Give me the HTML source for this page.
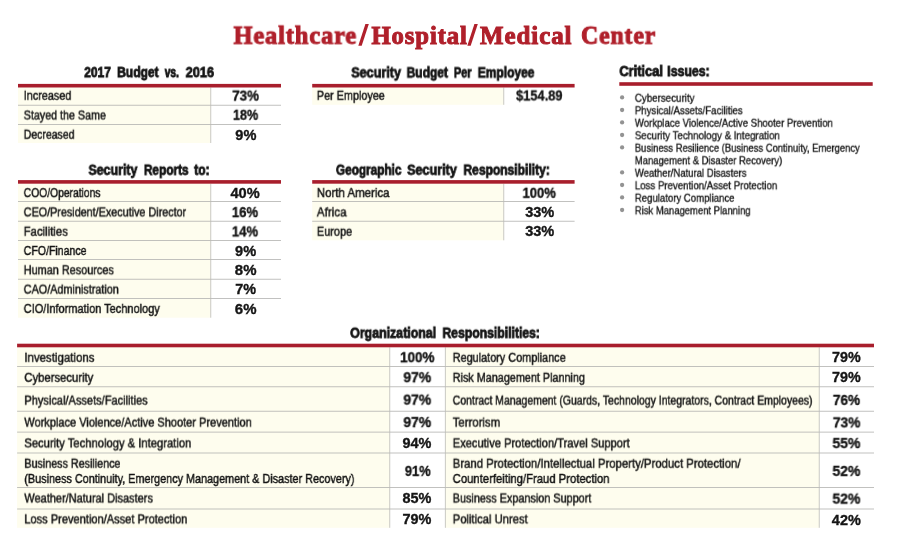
<!DOCTYPE html>
<html><head><meta charset="utf-8"><title>Healthcare/Hospital/Medical Center</title>
<style>
html,body{margin:0;padding:0;background:#fff;}
body{width:900px;height:550px;position:relative;overflow:hidden;font-family:"Liberation Sans",sans-serif;}
.r{position:absolute;}
.t{position:absolute;left:0;top:0;white-space:nowrap;line-height:1;transform-origin:0 0;will-change:transform;}
.p{display:inline-block;width:0;height:0;}
.n{-webkit-text-stroke:0.5px currentColor;}
.h{-webkit-text-stroke:0.8px currentColor;}
.q{-webkit-text-stroke:0.35px currentColor;}
.k{-webkit-text-stroke:1px currentColor;letter-spacing:0.9px;}
.s{-webkit-text-stroke:0.35px currentColor;}
</style></head><body>
<svg class="r" style="left:0;top:0" width="900" height="550" viewBox="0 0 900 550" shape-rendering="geometricPrecision">
<rect x="18.00" y="87.50" width="192.80" height="55.50" fill="#fefdee"/>
<rect x="18.00" y="104.80" width="263.00" height="0.80" fill="#b2b2b0"/>
<rect x="18.00" y="124.00" width="263.00" height="0.80" fill="#b2b2b0"/>
<rect x="210.40" y="87.50" width="0.80" height="55.50" fill="#bcbcb7"/>
<rect x="18.00" y="83.90" width="263.00" height="3.60" fill="#a81e2c"/>
<rect x="18.00" y="183.70" width="192.80" height="134.00" fill="#fefdee"/>
<rect x="18.00" y="201.20" width="263.00" height="0.80" fill="#b2b2b0"/>
<rect x="18.00" y="220.80" width="263.00" height="0.80" fill="#b2b2b0"/>
<rect x="18.00" y="240.00" width="263.00" height="0.80" fill="#b2b2b0"/>
<rect x="18.00" y="259.10" width="263.00" height="0.80" fill="#b2b2b0"/>
<rect x="18.00" y="278.80" width="263.00" height="0.80" fill="#b2b2b0"/>
<rect x="18.00" y="298.10" width="263.00" height="0.80" fill="#b2b2b0"/>
<rect x="210.40" y="183.70" width="0.80" height="134.00" fill="#bcbcb7"/>
<rect x="18.00" y="180.10" width="263.00" height="3.60" fill="#a81e2c"/>
<rect x="312.20" y="87.50" width="191.60" height="17.30" fill="#fefdee"/>
<rect x="503.40" y="87.50" width="0.80" height="17.30" fill="#bcbcb7"/>
<rect x="312.20" y="83.90" width="262.40" height="3.60" fill="#a81e2c"/>
<rect x="312.20" y="183.70" width="191.60" height="56.60" fill="#fefdee"/>
<rect x="312.20" y="201.20" width="262.40" height="0.80" fill="#b2b2b0"/>
<rect x="312.20" y="220.80" width="262.40" height="0.80" fill="#b2b2b0"/>
<rect x="503.40" y="183.70" width="0.80" height="56.60" fill="#bcbcb7"/>
<rect x="312.20" y="180.10" width="262.40" height="3.60" fill="#a81e2c"/>
<rect x="619.30" y="82.20" width="253.40" height="3.60" fill="#a81e2c"/>
<rect x="17.10" y="347.30" width="372.70" height="180.50" fill="#fefdee"/>
<rect x="445.30" y="347.30" width="373.90" height="180.50" fill="#fefdee"/>
<rect x="17.10" y="366.00" width="856.90" height="0.80" fill="#b2b2b0"/>
<rect x="17.10" y="386.40" width="856.90" height="0.80" fill="#b2b2b0"/>
<rect x="17.10" y="410.80" width="856.90" height="0.80" fill="#b2b2b0"/>
<rect x="17.10" y="431.70" width="856.90" height="0.80" fill="#b2b2b0"/>
<rect x="17.10" y="452.60" width="856.90" height="0.80" fill="#b2b2b0"/>
<rect x="17.10" y="487.20" width="856.90" height="0.80" fill="#b2b2b0"/>
<rect x="17.10" y="508.60" width="856.90" height="0.80" fill="#b2b2b0"/>
<rect x="389.40" y="347.30" width="0.80" height="180.50" fill="#bcbcb7"/>
<rect x="444.90" y="347.30" width="0.80" height="180.50" fill="#bcbcb7"/>
<rect x="818.80" y="347.30" width="0.80" height="180.50" fill="#bcbcb7"/>
<rect x="17.10" y="343.70" width="856.90" height="3.60" fill="#a81e2c"/>
<circle cx="622.1" cy="97.4" r="2.15" fill="#939393"/>
<circle cx="622.1" cy="110.0" r="2.15" fill="#939393"/>
<circle cx="622.1" cy="122.4" r="2.15" fill="#939393"/>
<circle cx="622.1" cy="135.0" r="2.15" fill="#939393"/>
<circle cx="622.1" cy="147.4" r="2.15" fill="#939393"/>
<circle cx="622.1" cy="172.4" r="2.15" fill="#939393"/>
<circle cx="622.1" cy="185.0" r="2.15" fill="#939393"/>
<circle cx="622.1" cy="197.4" r="2.15" fill="#939393"/>
<circle cx="622.1" cy="210.0" r="2.15" fill="#939393"/>
<polygon points="365.4,24 368.8,24 361.7,45.8 358.3,45.8" fill="#b0202b"/>
<polygon points="474.4,24 477.8,24 470.7,45.8 467.3,45.8" fill="#b0202b"/>
</svg>
<div class="t k" style="font-size:24.6px;font-weight:700;font-family:'Liberation Serif', serif;color:#b0202b;transform:translate(233.55px,23.70px) scaleX(0.9911)">Healthcare</div>
<div class="t k" style="font-size:24.6px;font-weight:700;font-family:'Liberation Serif', serif;color:#b0202b;transform:translate(371.40px,23.70px) scaleX(1.0039)">Hospital</div>
<div class="t k" style="font-size:24.6px;font-weight:700;font-family:'Liberation Serif', serif;color:#b0202b;transform:translate(480.10px,23.70px) scaleX(1.0139)">Medical</div>
<div class="t k" style="font-size:24.6px;font-weight:700;font-family:'Liberation Serif', serif;color:#b0202b;transform:translate(581.05px,23.70px) scaleX(0.9645)">Center</div>
<div class="t h" style="font-size:14px;font-weight:700;color:#151515;transform:translate(84.25px,65.10px) scaleX(0.8570)">2017</div>
<div class="t h" style="font-size:14px;font-weight:700;color:#151515;transform:translate(117.15px,65.10px) scaleX(0.8607)">Budget</div>
<div class="t h" style="font-size:14px;font-weight:700;color:#151515;transform:translate(164.65px,65.10px) scaleX(0.7345)">vs.</div>
<div class="t h" style="font-size:14px;font-weight:700;color:#151515;transform:translate(185.65px,65.10px) scaleX(0.9147)">2016</div>
<div class="t h" style="font-size:14px;font-weight:700;color:#151515;transform:translate(88.45px,162.80px) scaleX(0.8851)">Security</div>
<div class="t h" style="font-size:14px;font-weight:700;color:#151515;transform:translate(143.95px,162.80px) scaleX(0.8430)">Reports</div>
<div class="t h" style="font-size:14px;font-weight:700;color:#151515;transform:translate(194.15px,162.80px) scaleX(0.8608)">to:</div>
<div class="t h" style="font-size:14px;font-weight:700;color:#151515;transform:translate(351.25px,65.40px) scaleX(0.8995)">Security</div>
<div class="t h" style="font-size:14px;font-weight:700;color:#151515;transform:translate(406.65px,65.40px) scaleX(0.8565)">Budget</div>
<div class="t h" style="font-size:14px;font-weight:700;color:#151515;transform:translate(453.85px,65.40px) scaleX(0.7884)">Per</div>
<div class="t h" style="font-size:14px;font-weight:700;color:#151515;transform:translate(477.75px,65.40px) scaleX(0.8573)">Employee</div>
<div class="t h" style="font-size:14px;font-weight:700;color:#151515;transform:translate(335.95px,162.70px) scaleX(0.8419)">Geographic</div>
<div class="t h" style="font-size:14px;font-weight:700;color:#151515;transform:translate(407.15px,162.70px) scaleX(0.8977)">Security</div>
<div class="t h" style="font-size:14px;font-weight:700;color:#151515;transform:translate(463.45px,162.70px) scaleX(0.8599)">Responsibility:</div>
<div class="t h" style="font-size:14px;font-weight:700;color:#151515;transform:translate(619.35px,64.10px) scaleX(0.9185)">Critical</div>
<div class="t h" style="font-size:14px;font-weight:700;color:#151515;transform:translate(667.15px,64.10px) scaleX(0.8829)">Issues:</div>
<div class="t h" style="font-size:14px;font-weight:700;color:#151515;transform:translate(350.15px,325.80px) scaleX(0.8845)">Organizational</div>
<div class="t h" style="font-size:14px;font-weight:700;color:#151515;transform:translate(442.45px,325.80px) scaleX(0.8703)">Responsibilities:</div>
<div class="t n" style="font-size:13.7px;font-weight:400;color:#151515;transform:translate(23.70px,88.80px) scaleX(0.7917)">Increased</div>
<div class="t n" style="font-size:13.7px;font-weight:400;color:#151515;transform:translate(23.70px,108.50px) scaleX(0.7827)">Stayed the Same</div>
<div class="t n" style="font-size:13.7px;font-weight:400;color:#151515;transform:translate(23.70px,127.70px) scaleX(0.7673)">Decreased</div>
<div class="t q" style="font-size:14.01px;font-weight:700;color:#151515;transform:translate(232.15px,88.60px) scaleX(0.9596)">73%</div>
<div class="t q" style="font-size:14.01px;font-weight:700;color:#151515;transform:translate(232.95px,107.80px) scaleX(0.9026)">18%</div>
<div class="t q" style="font-size:14.01px;font-weight:700;color:#151515;transform:translate(235.35px,127.70px) scaleX(1.0403)">9%</div>
<div class="t n" style="font-size:13.7px;font-weight:400;color:#151515;transform:translate(23.70px,186.10px) scaleX(0.7534)">COO/Operations</div>
<div class="t q" style="font-size:14.01px;font-weight:700;color:#151515;transform:translate(230.45px,185.80px) scaleX(1.0417)">40%</div>
<div class="t n" style="font-size:13.7px;font-weight:400;color:#151515;transform:translate(23.70px,205.40px) scaleX(0.7882)">CEO/President/Executive Director</div>
<div class="t q" style="font-size:14.01px;font-weight:700;color:#151515;transform:translate(231.85px,205.10px) scaleX(0.9382)">16%</div>
<div class="t n" style="font-size:13.7px;font-weight:400;color:#151515;transform:translate(23.70px,224.70px) scaleX(0.8282)">Facilities</div>
<div class="t q" style="font-size:14.01px;font-weight:700;color:#151515;transform:translate(231.85px,224.40px) scaleX(0.9382)">14%</div>
<div class="t n" style="font-size:13.7px;font-weight:400;color:#151515;transform:translate(23.70px,244.00px) scaleX(0.7716)">CFO/Finance</div>
<div class="t q" style="font-size:14.01px;font-weight:700;color:#151515;transform:translate(235.05px,243.70px) scaleX(1.0428)">9%</div>
<div class="t n" style="font-size:13.7px;font-weight:400;color:#151515;transform:translate(23.70px,263.30px) scaleX(0.7948)">Human Resources</div>
<div class="t q" style="font-size:14.01px;font-weight:700;color:#151515;transform:translate(234.85px,263.00px) scaleX(1.0675)">8%</div>
<div class="t n" style="font-size:13.7px;font-weight:400;color:#151515;transform:translate(23.70px,282.60px) scaleX(0.7913)">CAO/Administration</div>
<div class="t q" style="font-size:14.01px;font-weight:700;color:#151515;transform:translate(235.35px,282.30px) scaleX(1.0280)">7%</div>
<div class="t n" style="font-size:13.7px;font-weight:400;color:#151515;transform:translate(23.70px,301.90px) scaleX(0.8033)">CIO/Information Technology</div>
<div class="t q" style="font-size:14.01px;font-weight:700;color:#151515;transform:translate(234.85px,301.60px) scaleX(1.0675)">6%</div>
<div class="t n" style="font-size:13.7px;font-weight:400;color:#151515;transform:translate(316.80px,88.80px) scaleX(0.7910)">Per Employee</div>
<div class="t q" style="font-size:14.01px;font-weight:700;color:#151515;transform:translate(516.05px,88.50px) scaleX(0.9188)">$154.89</div>
<div class="t n" style="font-size:13.7px;font-weight:400;color:#151515;transform:translate(316.80px,186.10px) scaleX(0.8383)">North America</div>
<div class="t q" style="font-size:14.01px;font-weight:700;color:#151515;transform:translate(522.45px,185.80px) scaleX(0.9354)">100%</div>
<div class="t n" style="font-size:13.7px;font-weight:400;color:#151515;transform:translate(316.80px,205.40px) scaleX(0.8486)">Africa</div>
<div class="t q" style="font-size:14.01px;font-weight:700;color:#151515;transform:translate(525.15px,205.10px) scaleX(1.0417)">33%</div>
<div class="t n" style="font-size:13.7px;font-weight:400;color:#151515;transform:translate(316.80px,224.70px) scaleX(0.8020)">Europe</div>
<div class="t q" style="font-size:14.01px;font-weight:700;color:#151515;transform:translate(525.15px,224.40px) scaleX(1.0417)">33%</div>
<div class="t s" style="font-size:11.8px;font-weight:400;color:#151515;transform:translate(634.80px,92.70px) scaleX(0.8277)">Cybersecurity</div>
<div class="t s" style="font-size:11.8px;font-weight:400;color:#151515;transform:translate(634.80px,105.30px) scaleX(0.8195)">Physical/Assets/Facilities</div>
<div class="t s" style="font-size:11.8px;font-weight:400;color:#151515;transform:translate(634.80px,117.70px) scaleX(0.8131)">Workplace Violence/Active Shooter Prevention</div>
<div class="t s" style="font-size:11.8px;font-weight:400;color:#151515;transform:translate(634.80px,130.30px) scaleX(0.8261)">Security Technology &amp; Integration</div>
<div class="t s" style="font-size:11.8px;font-weight:400;color:#151515;transform:translate(634.80px,142.70px) scaleX(0.7986)">Business Resilience (Business Continuity, Emergency</div>
<div class="t s" style="font-size:11.8px;font-weight:400;color:#151515;transform:translate(634.80px,155.30px) scaleX(0.8029)">Management &amp; Disaster Recovery)</div>
<div class="t s" style="font-size:11.8px;font-weight:400;color:#151515;transform:translate(634.80px,167.70px) scaleX(0.8087)">Weather/Natural Disasters</div>
<div class="t s" style="font-size:11.8px;font-weight:400;color:#151515;transform:translate(634.80px,180.30px) scaleX(0.8194)">Loss Prevention/Asset Protection</div>
<div class="t s" style="font-size:11.8px;font-weight:400;color:#151515;transform:translate(634.80px,192.70px) scaleX(0.8130)">Regulatory Compliance</div>
<div class="t s" style="font-size:11.8px;font-weight:400;color:#151515;transform:translate(634.80px,205.30px) scaleX(0.8020)">Risk Management Planning</div>
<div class="t n" style="font-size:13.7px;font-weight:400;color:#151515;transform:translate(24.30px,350.80px) scaleX(0.8387)">Investigations</div>
<div class="t q" style="font-size:14.01px;font-weight:700;color:#151515;transform:translate(400.05px,350.20px) scaleX(0.9634)">100%</div>
<div class="t n" style="font-size:13.7px;font-weight:400;color:#151515;transform:translate(24.30px,370.80px) scaleX(0.8246)">Cybersecurity</div>
<div class="t q" style="font-size:14.01px;font-weight:700;color:#151515;transform:translate(403.35px,370.20px) scaleX(0.9953)">97%</div>
<div class="t n" style="font-size:13.7px;font-weight:400;color:#151515;transform:translate(24.30px,393.60px) scaleX(0.8071)">Physical/Assets/Facilities</div>
<div class="t q" style="font-size:14.01px;font-weight:700;color:#151515;transform:translate(403.35px,392.60px) scaleX(0.9953)">97%</div>
<div class="t n" style="font-size:13.7px;font-weight:400;color:#151515;transform:translate(24.30px,415.60px) scaleX(0.8049)">Workplace Violence/Active Shooter Prevention</div>
<div class="t q" style="font-size:14.01px;font-weight:700;color:#151515;transform:translate(403.35px,415.10px) scaleX(0.9953)">97%</div>
<div class="t n" style="font-size:13.7px;font-weight:400;color:#151515;transform:translate(24.30px,436.40px) scaleX(0.8199)">Security Technology &amp; Integration</div>
<div class="t q" style="font-size:14.01px;font-weight:700;color:#151515;transform:translate(402.55px,436.00px) scaleX(1.0310)">94%</div>
<div class="t n" style="font-size:13.7px;font-weight:400;color:#151515;transform:translate(24.30px,456.70px) scaleX(0.7853)">Business Resilience</div>
<div class="t n" style="font-size:13.7px;font-weight:400;color:#151515;transform:translate(24.30px,472.00px) scaleX(0.7911)">(Business Continuity, Emergency Management &amp; Disaster Recovery)</div>
<div class="t q" style="font-size:14.01px;font-weight:700;color:#151515;transform:translate(404.85px,463.90px) scaleX(0.9204)">91%</div>
<div class="t n" style="font-size:13.7px;font-weight:400;color:#151515;transform:translate(24.30px,491.50px) scaleX(0.8024)">Weather/Natural Disasters</div>
<div class="t q" style="font-size:14.01px;font-weight:700;color:#151515;transform:translate(402.55px,491.40px) scaleX(1.0310)">85%</div>
<div class="t n" style="font-size:13.7px;font-weight:400;color:#151515;transform:translate(24.30px,512.40px) scaleX(0.8084)">Loss Prevention/Asset Protection</div>
<div class="t q" style="font-size:14.01px;font-weight:700;color:#151515;transform:translate(402.55px,512.00px) scaleX(1.0310)">79%</div>
<div class="t n" style="font-size:13.7px;font-weight:400;color:#151515;transform:translate(452.70px,350.80px) scaleX(0.7942)">Regulatory Compliance</div>
<div class="t q" style="font-size:14.01px;font-weight:700;color:#151515;transform:translate(832.05px,350.20px) scaleX(1.0203)">79%</div>
<div class="t n" style="font-size:13.7px;font-weight:400;color:#151515;transform:translate(452.70px,370.80px) scaleX(0.7898)">Risk Management Planning</div>
<div class="t q" style="font-size:14.01px;font-weight:700;color:#151515;transform:translate(832.05px,370.40px) scaleX(1.0203)">79%</div>
<div class="t n" style="font-size:13.7px;font-weight:400;color:#151515;transform:translate(452.70px,393.60px) scaleX(0.7657)">Contract Management (Guards, Technology Integrators, Contract Employees)</div>
<div class="t q" style="font-size:14.01px;font-weight:700;color:#151515;transform:translate(832.85px,392.90px) scaleX(0.9739)">76%</div>
<div class="t n" style="font-size:13.7px;font-weight:400;color:#151515;transform:translate(452.70px,415.60px) scaleX(0.8311)">Terrorism</div>
<div class="t q" style="font-size:14.01px;font-weight:700;color:#151515;transform:translate(832.85px,415.40px) scaleX(0.9846)">73%</div>
<div class="t n" style="font-size:13.7px;font-weight:400;color:#151515;transform:translate(452.70px,436.40px) scaleX(0.8125)">Executive Protection/Travel Support</div>
<div class="t q" style="font-size:14.01px;font-weight:700;color:#151515;transform:translate(832.45px,436.10px) scaleX(0.9989)">55%</div>
<div class="t n" style="font-size:13.7px;font-weight:400;color:#151515;transform:translate(452.70px,456.70px) scaleX(0.8295)">Brand Protection/Intellectual Property/Product Protection/</div>
<div class="t n" style="font-size:13.7px;font-weight:400;color:#151515;transform:translate(452.70px,472.00px) scaleX(0.8243)">Counterfeiting/Fraud Protection</div>
<div class="t q" style="font-size:14.01px;font-weight:700;color:#151515;transform:translate(832.45px,463.90px) scaleX(0.9989)">52%</div>
<div class="t n" style="font-size:13.7px;font-weight:400;color:#151515;transform:translate(452.70px,491.50px) scaleX(0.7919)">Business Expansion Support</div>
<div class="t q" style="font-size:14.01px;font-weight:700;color:#151515;transform:translate(832.45px,491.60px) scaleX(0.9989)">52%</div>
<div class="t n" style="font-size:13.7px;font-weight:400;color:#151515;transform:translate(452.70px,512.40px) scaleX(0.8216)">Political Unrest</div>
<div class="t q" style="font-size:14.01px;font-weight:700;color:#151515;transform:translate(831.85px,512.60px) scaleX(1.0310)">42%</div>
</body></html>
